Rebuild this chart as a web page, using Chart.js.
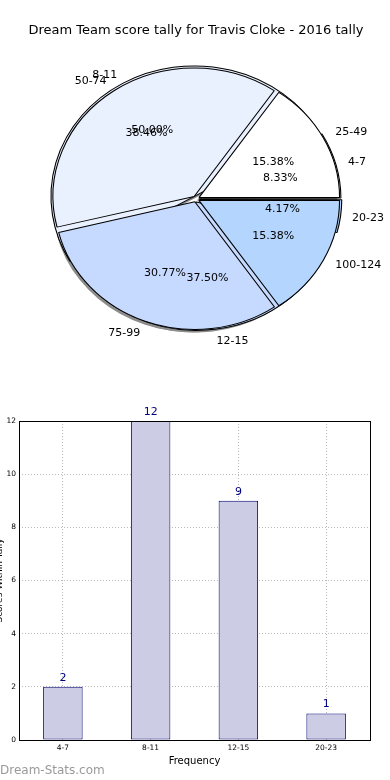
<!DOCTYPE html>
<html><head><meta charset="utf-8">
<script src="https://cdn.jsdelivr.net/npm/chart.js@4/dist/chart.umd.min.js"></script>
<style>
html,body{margin:0;padding:0;background:#fff;width:390px;height:780px;overflow:hidden;position:relative}
canvas{position:absolute}
#pieA{left:0;top:0;z-index:1}
#pieB{left:0;top:0;z-index:2}
#bar{left:-6px;top:395px;z-index:1}
#wm{position:absolute;left:0;top:763px;font:12px 'DejaVu Sans',sans-serif;line-height:14px;color:#9a9a9a;z-index:3}
</style></head><body>
<canvas id="pieA" width="390" height="380"></canvas>
<canvas id="pieB" width="390" height="380"></canvas>
<canvas id="bar" width="396" height="385"></canvas>
<div id="wm">Dream-Stats.com</div>
<script>
// ---- data ----
const chartTitle = 'Dream Team score tally for Travis Cloke - 2016 tally';
const pieLabelsA = ['4-7', '8-11', '12-15', '20-23'];
const pieValuesA = [2, 12, 9, 1];
const pieLabelsB = ['25-49', '50-74', '75-99', '100-124'];
const pieValuesB = [2, 5, 4, 2];
const barLabels = ['4-7', '8-11', '12-15', '20-23'];
const barValues = [2, 12, 9, 1];
const yTickStep = 2;
const yMax = 12;
const xAxisTitle = 'Frequency';
const yAxisTitle = 'Scores Within Tally';

const sliceColors = ['#ffffff', '#eaf1fe', '#c6d9fe', '#b3d5fe'];
Chart.defaults.font.family = "'DejaVu Sans', sans-serif";
Chart.defaults.color = '#000';

const SX = 145 / 132;
function ellipse(ctx, cx, cy) {
  ctx.translate(cx, cy); ctx.scale(SX, -1); ctx.translate(-cx, -cy);
}
function arcCenter(meta) {
  const a = meta.data[0];
  return {cx: a.x, cy: a.y};
}
function drawShadows(ctx, meta) {
  meta.data.forEach(a => {
    const off = (a.options.offset || 0) / 4;
    const mid = (a.startAngle + a.endAngle) / 2;
    const x = a.x + Math.cos(mid) * off, y = a.y + Math.sin(mid) * off;
    ctx.beginPath();
    ctx.moveTo(x, y);
    ctx.arc(x, y, a.outerRadius, a.startAngle, a.endAngle);
    ctx.closePath();
    ctx.fill();
  });
}
function drawLabels(ctx, meta, labels, values) {
  const total = values.reduce((s, v) => s + v, 0);
  ctx.save();
  ctx.font = "11px 'DejaVu Sans', sans-serif";
  ctx.fillStyle = '#000';
  ctx.textBaseline = 'middle';
  meta.data.forEach((a, i) => {
    const mid = (a.startAngle + a.endAngle) / 2;
    const r = a.outerRadius;
    const off = (a.options.offset || 0) / 4;
    const lx = a.x + SX * (off + 1.1 * r) * Math.cos(mid);
    const ly = a.y - (off + 1.1 * r) * Math.sin(mid);
    ctx.textAlign = lx > a.x ? 'left' : 'right';
    ctx.fillText(labels[i], lx, ly);
    const px = a.x + SX * (off + 0.6 * r) * Math.cos(mid);
    const py = a.y - (off + 0.6 * r) * Math.sin(mid);
    ctx.textAlign = 'center';
    ctx.fillText((values[i] / total * 100).toFixed(2) + '%', px, py);
  });
  ctx.restore();
}

let pieA = null, pieB = null;

function pieConfig(labels, values, titleColor, plugin) {
  return {
    type: 'pie',
    data: {labels: labels, datasets: [{
      data: values, backgroundColor: sliceColors, borderColor: '#000', borderWidth: 1,
      offset: 12, hoverOffset: 0, clip: false
    }]},
    options: {
      responsive: false, animation: false, rotation: 90,
      layout: {padding: {left: 2, right: 0, top: 0, bottom: 47}},
      plugins: {
        legend: {display: false}, tooltip: {enabled: false},
        title: {display: true, text: chartTitle, color: titleColor,
          font: {size: 13, weight: 'normal'}, padding: {top: 22.5, bottom: 26.9}}
      }
    },
    plugins: [plugin]
  };
}

pieB = new Chart(document.getElementById('pieB'), pieConfig(pieLabelsB, pieValuesB, 'rgba(0,0,0,0)', {
  id: 'pieBfx',
  beforeDatasetsDraw(chart) {
    const {cx, cy} = arcCenter(chart.getDatasetMeta(0));
    chart.ctx.save(); ellipse(chart.ctx, cx, cy);
  },
  afterDatasetsDraw(chart) { chart.ctx.restore(); },
  afterDraw(chart) {
    if (pieA) drawLabels(chart.ctx, pieA.getDatasetMeta(0), pieLabelsA, pieValuesA);
    drawLabels(chart.ctx, chart.getDatasetMeta(0), pieLabelsB, pieValuesB);
  }
}));

pieA = new Chart(document.getElementById('pieA'), pieConfig(pieLabelsA, pieValuesA, '#000', {
  id: 'pieAfx',
  beforeDatasetsDraw(chart) {
    const ctx = chart.ctx;
    const metaA = chart.getDatasetMeta(0);
    const {cx, cy} = arcCenter(metaA);
    ctx.save();
    ctx.translate(-2, 3);
    ellipse(ctx, cx, cy);
    ctx.fillStyle = '#8c8c8c';
    drawShadows(ctx, pieB.getDatasetMeta(0));
    drawShadows(ctx, metaA);
    ctx.restore();
    ctx.save(); ellipse(ctx, cx, cy);
  },
  afterDatasetsDraw(chart) { chart.ctx.restore(); }
}));
pieB.draw();

// ---- bar chart ----
new Chart(document.getElementById('bar'), {
  type: 'bar',
  data: {labels: barLabels, datasets: [{
    data: barValues, backgroundColor: '#ccccE4', borderColor: '#000070', borderWidth: 1,
    borderSkipped: false, barPercentage: 0.45, categoryPercentage: 1
  }]},
  options: {
    responsive: false, animation: false,
    layout: {padding: {top: 26, right: 20, left: 0, bottom: 13}},
    plugins: {legend: {display: false}, tooltip: {enabled: false}},
    scales: {
      x: {
        grid: {offset: false, color: '#b8b8b8', drawTicks: false},
        border: {display: false, dash: [1, 2]},
        ticks: {font: {size: 7.5}, color: '#000', padding: 4},
        title: {display: true, text: xAxisTitle, font: {size: 10}, color: '#000', padding: {top: 1, bottom: 0}},
        afterFit(s) { s.height = 27; }
      },
      y: {
        min: 0, max: yMax,
        grid: {color: '#b8b8b8', drawTicks: false},
        border: {display: false, dash: [1, 2]},
        ticks: {stepSize: yTickStep, font: {size: 7.5}, color: '#000', padding: 3},
        title: {display: true, text: yAxisTitle, font: {size: 9}, color: '#000', padding: 0},
        afterFit(s) { s.width = 25; }
      }
    }
  },
  plugins: [{
    id: 'barfx',
    afterDraw(chart) {
      const ctx = chart.ctx, a = chart.chartArea;
      ctx.save();
      ctx.strokeStyle = '#000'; ctx.lineWidth = 1;
      ctx.strokeRect(Math.round(a.left) + 0.5, Math.round(a.top) + 0.5,
        Math.round(a.right - a.left), Math.round(a.bottom - a.top));
      ctx.fillStyle = '#000080';
      ctx.font = "11px 'DejaVu Sans', sans-serif";
      ctx.textAlign = 'center'; ctx.textBaseline = 'middle';
      const meta = chart.getDatasetMeta(0);
      meta.data.forEach((b, i) => ctx.fillText(String(barValues[i]), b.x, b.y - 9));
      ctx.restore();
    }
  }]
});
</script>
</body></html>
